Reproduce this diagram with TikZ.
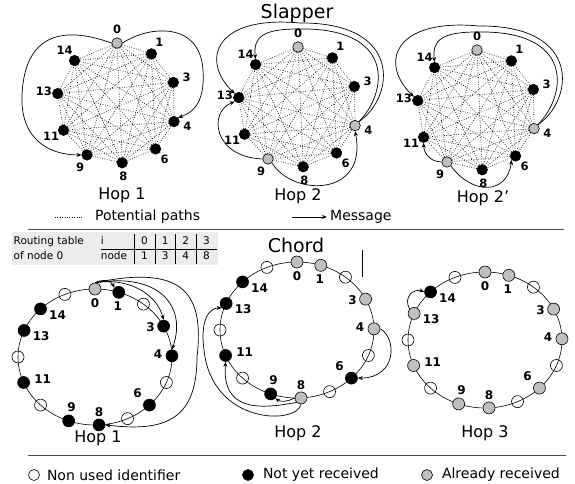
\documentclass[tikz,border=0pt]{standalone}
\usepackage{fontspec}
\setmainfont{DejaVu Sans}
\usetikzlibrary{positioning,arrows.meta}
\renewcommand{\arraystretch}{1.2}
\tikzset{
    peer/.style={circle, draw=black, line width=0.6pt, inner sep=0pt, minimum size=10.5pt},
    ringpeer/.style={peer, minimum size=12pt},
    potpath/.style={line width=0.7pt, black!90, dash pattern=on 0.7pt off 1.7pt},
    msg/.style={-{Stealth[length=5pt,width=4pt]}, line width=0.7pt},
    chordring/.style={line width=0.6pt},
    idlbl/.style={font=\fontsize{11.5}{13}\selectfont\bfseries, inner sep=0pt},
    ringlbl/.style={font=\fontsize{12}{14}\selectfont\bfseries, inner sep=0pt},
    hoplbl/.style={font=\fontsize{16}{18}\selectfont, inner sep=0pt},
    algotitle/.style={font=\fontsize{19}{22}\selectfont, inner sep=0pt},
    legendtext/.style={font=\fontsize{14}{16}\selectfont, inner sep=0pt},
    sepline/.style={line width=0.9pt, black!70}
}

\begin{document}
\begin{tikzpicture}[x=1pt, y=-1pt]

\useasboundingbox (0,0) rectangle (575,483);

% ===============================
%         Slapper (top)
% ===============================

\node[algotitle] (slaptitle) at (297,13) {Slapper};

% hop 1
\begin{scope}[shift={(117,103)}]
\foreach \id/\ang/\fc in {0/90/gray!50, 1/55/black, 3/20/black, 4/-18/black, 6/-50/black, 8/-85/black, 9/-120/black, 11/-153/black, 13/171/black, 14/135/black} {
    \node[peer, fill=\fc] (s1n\id) at ({60*cos(\ang)},{-60*sin(\ang)}) {};
    \node[idlbl] (s1l\id) at ({74*cos(\ang)},{-74*sin(\ang)}) {\id};
}
\foreach \a [count=\i] in {0,1,3,4,6,8,9,11,13,14} {
    \foreach \b [count=\j] in {0,1,3,4,6,8,9,11,13,14} {
        \ifnum\j>\i \draw[potpath] (s1n\a) -- (s1n\b); \fi
    }
}
\draw[msg] (s1n0.east) .. controls (33,-78) and (83,-81) .. (86,-33) .. controls (88,-3) and (78,9) .. (s1n4.north east);
\draw[msg] (s1n0.west) .. controls (-47,-75) and (-92,-75) .. (-95,-8) .. controls (-97,37) and (-67,52) .. (s1n9.west);
\end{scope}

% hop 2
\begin{scope}[shift={(298,107)}]
\foreach \id/\ang/\fc in {0/90/gray!50, 1/55/black, 3/20/black, 4/-18/gray!50, 6/-50/black, 8/-85/black, 9/-120/gray!50, 11/-153/black, 13/171/black, 14/135/black} {
    \node[peer, fill=\fc] (s2n\id) at ({60*cos(\ang)},{-60*sin(\ang)}) {};
    \node[idlbl] (s2l\id) at ({74*cos(\ang)},{-74*sin(\ang)}) {\id};
}
\foreach \a [count=\i] in {0,1,3,4,6,8,9,11,13,14} {
    \foreach \b [count=\j] in {0,1,3,4,6,8,9,11,13,14} {
        \ifnum\j>\i \draw[potpath] (s2n\a) -- (s2n\b); \fi
    }
}
\draw[msg] (s2n4.north east) .. controls (97,-10) and (105,-85) .. (2,-84) .. controls (-83,-92) and (-98,-47) .. (s2n13.north west);
\draw[msg] (s2n4.north east) .. controls (90,-15) and (98,-80) .. (0,-78) .. controls (-35,-78) and (-45,-70) .. (s2n14.north);
\draw[msg] (s2n9.west) .. controls (-85,50) and (-90,5) .. (s2n13.south west);
\draw[msg] (s2n9.south east) .. controls (-5,90) and (70,90) .. (s2n4.south);
\end{scope}

% hop 2'
\begin{scope}[shift={(477,110)}]
\foreach \id/\ang/\fc in {0/90/gray!50, 1/55/black, 3/20/black, 4/-18/gray!50, 6/-50/black, 8/-85/black, 9/-120/gray!50, 11/-153/black, 13/171/black, 14/135/black} {
    \node[peer, fill=\fc] (s3n\id) at ({60*cos(\ang)},{-60*sin(\ang)}) {};
    \node[idlbl] (s3l\id) at ({74*cos(\ang)},{-74*sin(\ang)}) {\id};
}
\foreach \a [count=\i] in {0,1,3,4,6,8,9,11,13,14} {
    \foreach \b [count=\j] in {0,1,3,4,6,8,9,11,13,14} {
        \ifnum\j>\i \draw[potpath] (s3n\a) -- (s3n\b); \fi
    }
}
\draw[msg] (s3n4.north east) .. controls (97,-10) and (105,-85) .. (2,-84) .. controls (-83,-92) and (-98,-47) .. (s3n13.north west);
\draw[msg] (s3n4.north east) .. controls (90,-15) and (98,-80) .. (0,-78) .. controls (-35,-78) and (-45,-70) .. (s3n14.north);
\draw[msg] (s3n9.west) .. controls (-45,52) and (-53,45) .. (s3n11.south);
\draw[msg] (s3n9.south east) .. controls (-5,85) and (30,85) .. (s3n6.south west);
\end{scope}

\node[hoplbl] (s1hop) at (122,195) {Hop 1};
\node[hoplbl] (s2hop) at (298,196) {Hop 2};
\node[hoplbl] (s3hop) at (483,198) {Hop 2'};

% legend
\coordinate (potA) at (55,217);
\coordinate (potB) at (82,217);
\draw[potpath] (potA) -- (potB);
\node[legendtext, anchor=west] (potlbl) at (95,217) {Potential paths};
\coordinate (msgA) at (292,217);
\node[legendtext, anchor=west, inner sep=3pt] (msglbl) at (327,217) {Message};
\draw[msg] (msgA) -- (msglbl.west);

\coordinate (sepAL) at (28,229);
\coordinate (sepAR) at (564,229);
\draw[sepline] (sepAL) -- (sepAR);

% ===============================
%         Chord (bottom)
% ===============================

\node[anchor=north west, fill=gray!15, inner sep=1.5pt, font=\fontsize{10.5}{12.6}\selectfont] (rtable) at (12,232)
    {\setlength{\tabcolsep}{7pt}\begin{tabular}{@{}l@{\hspace{17pt}}l|c|c|c|c}
     Routing table & i & 0 & 1 & 2 & 3\\ \cline{2-6}
     of node 0 & node & 1 & 3 & 4 & 8
     \end{tabular}};

\node[algotitle] (chordtitle) at (296,245) {Chord};
\coordinate (vtop) at (362,250);
\coordinate (vbot) at (362,277);
\draw[line width=0.7pt] (vtop) -- (vbot);

% hop 1
\begin{scope}[shift={(95,357)}]
\draw[chordring] (0,0) ellipse [x radius=77pt, y radius=68pt];
\foreach \sl/\ang/\fc in {0/90/gray!50, 1/72/black, 2/51/none, 3/27/black, 4/1/black, 5/-22/none, 6/-45/black, 7/-65/none, 8/-87/black, 9/-110/black, 10/-135/none, 11/-158/black, 12/180/none, 13/157/black, 14/135/black, 15/113/none}
    \node[ringpeer, fill=\fc] (c1n\sl) at ({77*cos(\ang)},{-68*sin(\ang)}) {};
\foreach \id/\dx/\dy in {0/0/14, 1/-1/14, 3/-13/1, 4/-14/-2, 6/-12/-12, 8/0/-13, 9/3/-14, 11/19/-3, 13/17/6, 14/17/6}
    \node[ringlbl] (c1l\id) at ([shift={(\dx,\dy)}]c1n\id) {\id};
\draw[msg] (c1n0.north) .. controls (8,-78) and (16,-77) .. (c1n1.north west);
\draw[msg] (c1n0.north) .. controls (35,-80) and (62,-62) .. (c1n3.north);
\draw[msg] (c1n0.north) .. controls (65,-85) and (92,-50) .. (c1n4.north);
\draw[msg] (c1n0.north) .. controls (85,-92) and (110,-67) .. (102,0) .. controls (102,63) and (70,75) .. (c1n8.east);
\end{scope}

% hop 2
\begin{scope}[shift={(297,330)}]
\draw[chordring] (0,0) ellipse [x radius=77pt, y radius=68pt];
\foreach \sl/\ang/\fc in {0/90/gray!50, 1/72/gray!50, 2/51/none, 3/27/gray!50, 4/1/gray!50, 5/-22/none, 6/-45/black, 7/-65/none, 8/-87/gray!50, 9/-110/black, 10/-135/none, 11/-158/black, 12/180/none, 13/157/black, 14/135/black, 15/113/none}
    \node[ringpeer, fill=\fc] (c2n\sl) at ({77*cos(\ang)},{-68*sin(\ang)}) {};
\foreach \id/\dx/\dy in {0/0/14, 1/-1/14, 3/-13/1, 4/-14/-2, 6/-12/-12, 8/0/-13, 9/3/-14, 11/19/-3, 13/17/6, 14/17/6}
    \node[ringlbl] (c2l\id) at ([shift={(\dx,\dy)}]c2n\id) {\id};
\draw[msg] (c2n4.east) .. controls (100,8) and (100,48) .. (c2n6.east);
\draw[msg] (c2n8.west) .. controls (-10,72) and (-16,72) .. (c2n9.south east);
\draw[msg] (c2n8.south west) .. controls (-40,80) and (-75,80) .. (c2n11.south);
\draw[msg] (c2n8.south) .. controls (0,95) and (-85,95) .. (-93,20) .. controls (-97,-10) and (-88,-22) .. (c2n13.south west);
\end{scope}

% hop 3
\begin{scope}[shift={(485,340)}]
\draw[chordring] (0,0) ellipse [x radius=77pt, y radius=68pt];
\foreach \sl/\ang/\fc in {0/90/gray!50, 1/72/gray!50, 2/51/none, 3/27/gray!50, 4/1/gray!50, 5/-22/none, 6/-45/gray!50, 7/-65/none, 8/-87/gray!50, 9/-110/gray!50, 10/-135/none, 11/-158/gray!50, 12/180/none, 13/157/gray!50, 14/135/black, 15/113/none}
    \node[ringpeer, fill=\fc] (c3n\sl) at ({77*cos(\ang)},{-68*sin(\ang)}) {};
\foreach \id/\dx/\dy in {0/0/14, 1/-1/14, 3/-13/1, 4/-14/-2, 6/-12/-12, 8/0/-13, 9/3/-14, 11/19/-3, 13/17/6, 14/17/6}
    \node[ringlbl] (c3l\id) at ([shift={(\dx,\dy)}]c3n\id) {\id};
\draw[msg] (c3n13.north west) .. controls (-82,-42) and (-72,-52) .. (c3n14.west);
\end{scope}

\node[hoplbl] (c1hop) at (98,438) {Hop 1};
\node[hoplbl] (c2hop) at (298,433) {Hop 2};
\node[hoplbl] (c3hop) at (485,433) {Hop 3};

% ===============================
%              legend
% ===============================

\coordinate (sepBL) at (28,455);
\coordinate (sepBR) at (566,455);
\draw[sepline] (sepBL) -- (sepBR);

\node[peer, minimum size=11pt, fill=none] (lgfree) at (34,475) {};
\node[legendtext, right=7pt of lgfree] (lgfreetxt) {Non used identifier};
\node[peer, minimum size=11pt, fill=black] (lgwait) at (248,475) {};
\node[legendtext, right=9pt of lgwait] (lgwaittxt) {Not yet received};
\node[peer, minimum size=11pt, fill=gray!50] (lgrecv) at (427,475) {};
\node[legendtext, right=9pt of lgrecv] (lgrecvtxt) {Already received};

\end{tikzpicture}
\end{document}
